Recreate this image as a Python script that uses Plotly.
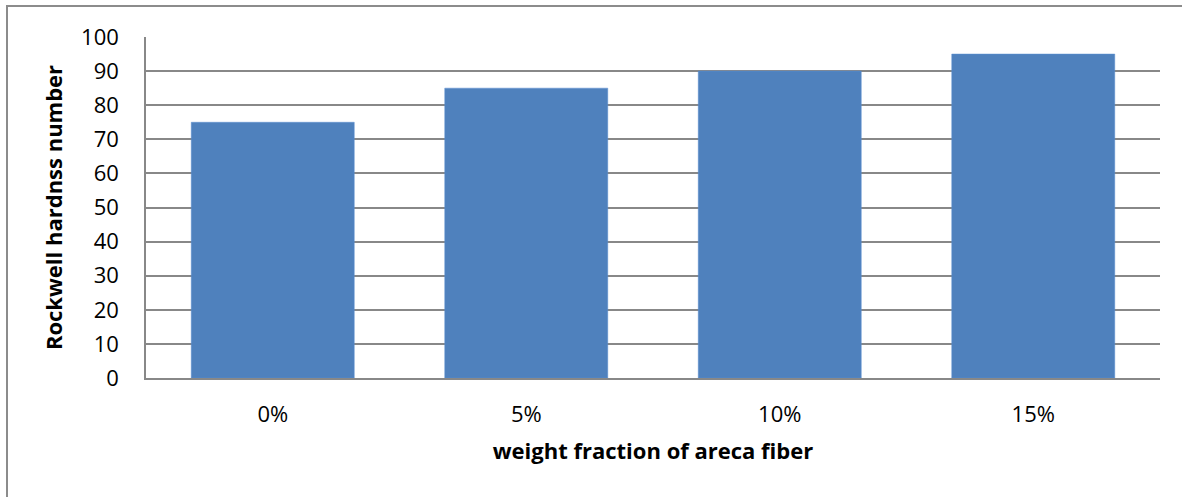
import plotly.graph_objects as go

categories = ["0%", "5%", "10%", "15%"]
hardness = [75, 85, 90, 95]
y_ticks = [0, 10, 20, 30, 40, 50, 60, 70, 80, 90, 100]

L, R, T, B = 146, 22, 37, 119
W, H = 1182, 497
pw = W - L - R
ph = H - T - B

fig = go.Figure()
fig.add_trace(go.Bar(
    x=categories, y=hardness,
    marker=dict(color="#4F81BD", line=dict(color="#5B8ED0", width=0.5)),
    width=0.643,
))

font_family = "Open Sans, Lato, DejaVu Sans, sans-serif"

fig.update_layout(
    width=W, height=H,
    margin=dict(l=L, r=R, t=T, b=B),
    paper_bgcolor="white", plot_bgcolor="white",
    showlegend=False,
    font=dict(family=font_family, size=22, color="#000000"),
    xaxis=dict(
        showgrid=False, showline=True, linecolor="#888888", linewidth=1.6,
        ticks="", tickfont=dict(size=22), ticklabelstandoff=16,
        title=dict(text="<b>weight fraction of areca fiber</b>", font=dict(size=22), standoff=16),
        range=[-0.5, 3.5],
    ),
    yaxis=dict(
        range=[0, 100], tickvals=y_ticks, showgrid=True, gridcolor="#888888", gridwidth=1.5,
        showline=True, linecolor="#888888", linewidth=1.6, zeroline=False,
        ticks="", tickfont=dict(size=22), ticklabelstandoff=21,
        title=dict(text="<b>Rockwell hardnss number</b>", font=dict(size=22), standoff=12),
    ),
    shapes=[dict(
        type="rect", xref="paper", yref="paper",
        x0=(7 - L) / pw, x1=(W + 10 - L) / pw,
        y0=(H - B - (H + 10)) / ph, y1=(H - B - 6) / ph,
        line=dict(color="#8C8C8C", width=2), fillcolor="rgba(0,0,0,0)", layer="below",
    )],
)

fig.write_html("out.html", config={"displayModeBar": False},
               post_script="document.body.style.margin='0px';")
